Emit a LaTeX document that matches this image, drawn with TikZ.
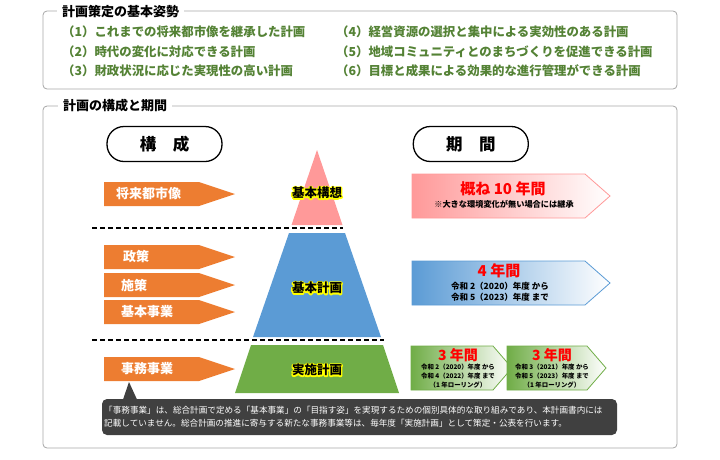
\documentclass[tikz,border=0pt]{standalone}
\usepackage{fontspec}
\setmainfont{Noto Sans CJK JP}
\usepackage{xcolor}
\usetikzlibrary{positioning}

\definecolor{frame}{RGB}{166,166,166}
\definecolor{itemgreen}{RGB}{84,130,53}
\definecolor{orng}{RGB}{237,125,49}
\definecolor{pinkp}{RGB}{255,153,153}
\definecolor{bluep}{RGB}{91,155,213}
\definecolor{greenp}{RGB}{112,173,71}
\definecolor{notebg}{RGB}{64,64,64}

\newcommand\fs[2]{\fontsize{#1}{#2}\selectfont}
% text with a yellow halo (stroked copy underneath)
\newcommand\halo[1]{\leavevmode\rlap{\special{pdf:code q 1 1 0 RG 2.6 w 1 j 1 Tr}#1\special{pdf:code 0 Tr Q}}#1}

\begin{document}
\begin{tikzpicture}[x=1pt, y=-1pt,
    secbox/.style={draw=frame, line width=0.8pt, rounded corners=4pt},
    sectitle/.style={fill=white, inner xsep=5pt, inner ysep=1pt, anchor=west, font=\fs{13}{15}\bfseries},
    item/.style={anchor=west, inner sep=0pt, text=itemgreen, font=\fs{12.4}{14}\bfseries},
    pill/.style={draw, line width=1.3pt, rounded corners=17pt, minimum width=115pt, minimum height=35pt, font=\fs{16.5}{18}\bfseries},
    olab/.style={anchor=west, inner sep=0pt, text=white, font=\fs{13}{15}\bfseries},
    plab/.style={inner sep=0pt, font=\fs{12.5}{14}\bfseries},
    years/.style={inner sep=0pt, text=red, font=\fs{15}{17}\bfseries},
    sub/.style={inner sep=0pt, align=center, font=\fs{8.5}{11}\bfseries},
    tiny sub/.style={inner sep=0pt, align=center, font=\fs{6.4}{9}\bfseries},
    divider/.style={dash pattern=on 5pt off 3pt, line width=1.2pt},
    period/.style={right color=white, line width=0.8pt}
]
\useasboundingbox (0,0) rectangle (720,459);

% basic stance
\draw[secbox] (43,11) rectangle (677,89);
\node[sectitle] (title1) at (57,12) {計画策定の基本姿勢};
\node[item] (item1) at (62,32) {（1）これまでの将来都市像を継承した計画};
\node[item] (item2) at (62,52) {（2）時代の変化に対応できる計画};
\node[item] (item3) at (62,71) {（3）財政状況に応じた実現性の高い計画};
\node[item] (item4) at (336,32) {（4）経営資源の選択と集中による実効性のある計画};
\node[item] (item5) at (336,52) {（5）地域コミュニティとのまちづくりを促進できる計画};
\node[item] (item6) at (336,71) {（6）目標と成果による効果的な進行管理ができる計画};

% structure and period
\draw[secbox] (43,106) rectangle (677,448);
\node[sectitle] (title2) at (58,106) {計画の構成と期間};

\node[pill] (kousei) at (164.5,144) {構　成};
\node[pill, right=190pt of kousei] (kikan) {期　間};

\foreach \yt/\lx/\txt/\nm in {182/116/将来都市像/shourai, 245/123/政策/seisaku,
    273/121/施策/shisaku, 300/121/基本事業/kihonjigyou, 357/121/事務事業/jimujigyou}{
  \fill[orng] (104,\yt) -- (199,\yt) -- (235,\yt+12) -- (199,\yt+24) -- (104,\yt+24) -- cycle;
  \node[olab] (\nm) at (\lx,\yt+12) {\txt};
}

% pyramid
\fill[pinkp] (317,150) -- (342.5,225) -- (291.5,225) -- cycle;
\fill[bluep] (289,233) -- (345,233) -- (381,337) -- (253,337) -- cycle;
\fill[greenp] (251,345) -- (383,345) -- (399,393) -- (235,393) -- cycle;
\node[plab] (kousou) at (317,193) {\halo{基本構想}};
\node[plab] (kihon)  at (317,288) {\halo{基本計画}};
\node[plab] (jisshi) at (317,370) {\halo{実施計画}};

\draw[divider] (92,228) -- (343,228);
\draw[divider] (92,340) -- (384,340);

% period boxes
\shade[period, left color=pinkp, draw=pinkp] (412,174) -- (585,174) -- (610,196) -- (585,218) -- (412,218) -- cycle;
\node[years] (tenyears) at (503,189) {概ね 10 年間};
\node[sub, font=\fs{8.2}{10}\bfseries] (tennote) at (504,204) {※大きな環境変化が無い場合には継承};

\shade[period, left color=bluep, draw=bluep] (412,261) -- (585,261) -- (610,283) -- (585,305) -- (412,305) -- cycle;
\node[years] (fouryears) at (499,271) {4 年間};
\node[sub] (fournote) at (500,291.5) {令和 2（2020）年度 から\\令和 5（2023）年度 まで};

\shade[period, left color=greenp, draw=greenp] (411,346) -- (493,346) -- (512,368) -- (493,390) -- (411,390) -- cycle;
\shade[period, left color=greenp, draw=greenp] (507,346) -- (587,346) -- (606,368) -- (587,390) -- (507,390) -- cycle;
\node[years, font=\fs{14}{16}\bfseries] (threea) at (458,355) {3 年間};
\node[years, font=\fs{14}{16}\bfseries] (threeb) at (552,355) {3 年間};
\node[tiny sub] (threeanote) at (458,376) {令和 2（2020）年度 から\\令和 4（2022）年度 まで\\（1 年ローリング）};
\node[tiny sub] (threebnote) at (552,376) {令和 3（2021）年度 から\\令和 5（2023）年度 まで\\（1 年ローリング）};

% note on jimu jigyou
\fill[notebg, rounded corners=5pt] (102,399) rectangle (617,435);
\fill[notebg] (123,399.5) -- (129,382) -- (137,399.5) -- cycle;
\node[anchor=west, inner sep=0pt, align=left, text=white, font=\fs{8.6}{13}] (note) at (104,416.5)
  {「事務事業」は、総合計画で定める「基本事業」の「目指す姿」を実現するための個別具体的な取り組みであり、本計画書内には\\
   記載していません。総合計画の推進に寄与する新たな事務事業等は、毎年度「実施計画」として策定・公表を行います。};
\end{tikzpicture}
\end{document}
